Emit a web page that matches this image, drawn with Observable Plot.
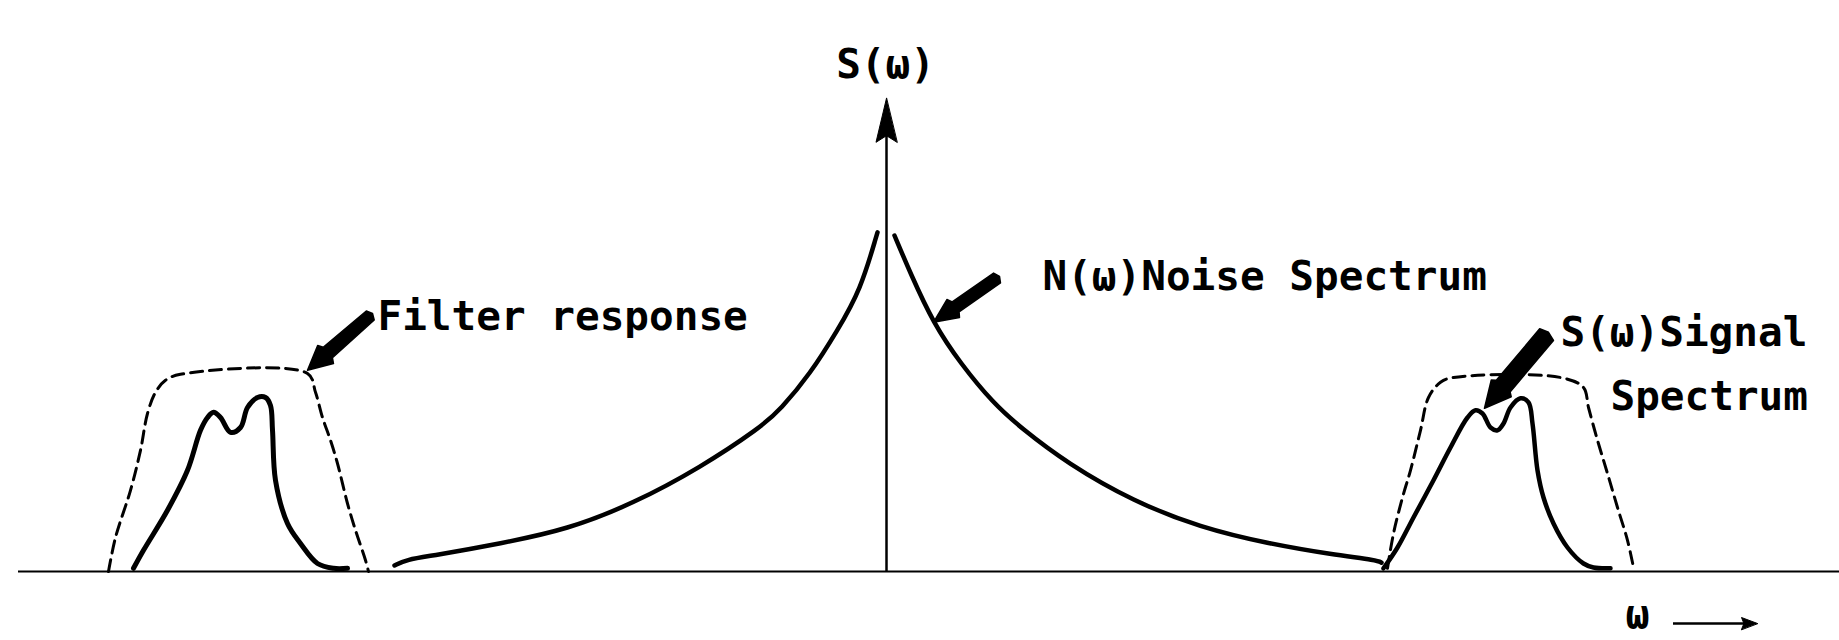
<!DOCTYPE html>
<html><head><meta charset="utf-8">
<script src="https://cdn.jsdelivr.net/npm/d3@7"></script>
<script src="https://cdn.jsdelivr.net/npm/@observablehq/plot@0.6"></script>
<style>html,body{margin:0;padding:0;background:#fff;} #chart svg{display:block;}</style>
</head><body><div id="chart"></div>
<script>
// ---- data (ω in arbitrary units, S(ω) in arbitrary units) ----
const noiseLeftOmega  = [-4.92, -4.8, -4.53, -3.86, -3.19, -2.53, -1.86, -1.26, -1.06, -0.76, -0.49, -0.26, -0.09];
const noiseLeftS      = [0.15, 0.3, 0.4, 0.7, 1.05, 1.7, 2.6, 3.6, 4.05, 4.95, 6.03, 7.03, 8.48];
const noiseRightOmega = [0.08, 0.24, 0.47, 0.74, 1.07, 1.34, 1.81, 2.47, 3.14, 3.81, 4.47, 4.91, 4.95];
const noiseRightS     = [8.4, 7.45, 6.2, 5.2, 4.2, 3.6, 2.7, 1.75, 1.1, 0.7, 0.42, 0.28, 0.22];

const filterLeftOmega = [-7.78, -7.71, -7.56, -7.46, -7.39, -7.31, -7.21, -7.06, -5.79, -5.71, -5.64, -5.56, -5.49, -5.39, -5.31, -5.21, -5.18];
const filterLeftS     = [0, 0.85, 2.03, 3.03, 3.95, 4.48, 4.78, 4.93, 4.95, 4.48, 3.85, 3.28, 2.7, 1.7, 1.03, 0.28, 0];
const filterRightOmega = [5.01, 5.07, 5.16, 5.24, 5.34, 5.42, 5.54, 5.67, 6.74, 6.97, 7.02, 7.11, 7.21, 7.31, 7.41, 7.47];
const filterRightS     = [0.08, 0.95, 1.85, 2.53, 3.53, 4.35, 4.73, 4.85, 4.85, 4.6, 4.1, 3.28, 2.45, 1.6, 0.78, 0.1];

const signalLeftOmega = [-7.53, -7.43, -7.19, -6.99, -6.86, -6.79, -6.73, -6.66, -6.56, -6.46, -6.39, -6.29, -6.21, -6.16, -6.14, -6.11, -5.99, -5.86, -5.69, -5.53, -5.39];
const signalLeftS     = [0.08, 0.53, 1.53, 2.53, 3.53, 3.85, 3.98, 3.85, 3.48, 3.6, 4.1, 4.35, 4.35, 4.15, 3.53, 2.28, 1.2, 0.7, 0.2, 0.08, 0.08];
const signalRightOmega = [4.97, 5.11, 5.27, 5.47, 5.64, 5.81, 5.89, 5.96, 6.04, 6.11, 6.17, 6.24, 6.34, 6.42, 6.46, 6.51, 6.57, 6.67, 6.81, 6.97, 7.07, 7.24];
const signalRightS     = [0.08, 0.6, 1.35, 2.28, 3.1, 3.85, 4.03, 3.95, 3.6, 3.53, 3.7, 4.1, 4.33, 4.23, 3.7, 2.53, 1.85, 1.2, 0.6, 0.2, 0.1, 0.08];

// axes
const omegaAxisRange = [-8.68, 9.53];
const sAxisTop = 11.83;

// labels
const labelText  = ["S(ω)", "Filter response", "N(ω)Noise Spectrum", "S(ω)Signal", "Spectrum", "ω"];
const labelOmega = [-0.01, -5.09, 1.56, 6.74, 7.24, 7.39];
const labelS     = [12.33, 6.03, 7.03, 5.65, 4.03, -1.42];

// pointers (tip -> tail)
const pointerTipOmega  = [-5.79, 0.47, 5.98];
const pointerTipS      = [5.03, 6.23, 4.08];
const pointerTailOmega = [-5.14, 1.13, 6.62];
const pointerTailS     = [6.45, 7.38, 5.98];

// ω arrow
const omegaArrowFrom = [7.87, -1.3];
const omegaArrowTo   = [8.71, -1.3];

// ---- build ----
const W = 1839, H = 640;
const XD = [-8.86, 9.53], YD = [-1.725, 14.275];
const kx = W / (XD[1] - XD[0]), ky = H / (YD[1] - YD[0]);
const toPx = (w, s) => [(w - XD[0]) * kx, (YD[1] - s) * ky];
const toData = (p) => ({x: p[0] / kx + XD[0], y: YD[1] - p[1] / ky});

const zip = (xs, ys) => xs.map((x, i) => ({x, y: ys[i]}));

function pointerPoly(tipD, tailD, hw, hl, sw0, sw1, id) {
  const t = toPx(...tipD), e = toPx(...tailD);
  const dx = e[0] - t[0], dy = e[1] - t[1], L = Math.hypot(dx, dy);
  const ux = dx / L, uy = dy / L, nx = -uy, ny = ux;
  const P = (a, b) => toData([t[0] + ux * a + nx * b, t[1] + uy * a + ny * b]);
  return [P(0, 0), P(hl, hw), P(hl + 3, sw0), P(L - 3, sw1), P(L, 0), P(L - 3, -sw1), P(hl + 3, -sw0), P(hl, -hw)]
    .map(d => ({...d, id}));
}
function headPoly(tipD, fromD, hl, hw, id) {
  const t = toPx(...tipD), e = toPx(...fromD);
  const dx = e[0] - t[0], dy = e[1] - t[1], L = Math.hypot(dx, dy);
  const ux = dx / L, uy = dy / L, nx = -uy, ny = ux;
  const P = (a, b) => toData([t[0] + ux * a + nx * b, t[1] + uy * a + ny * b]);
  return [P(0, 0), P(hl, hw), P(hl * 0.85, 0), P(hl, -hw)].map(d => ({...d, id}));
}

const pointerSizes = [[12, 24, 7, 6], [11, 24, 6, 6], [13, 26, 9, 9]];
const pointers = pointerTipOmega.flatMap((w, i) =>
  pointerPoly([w, pointerTipS[i]], [pointerTailOmega[i], pointerTailS[i]], ...pointerSizes[i], "p" + i));
const heads = [
  ...headPoly([0, sAxisTop], [0, 0], 44, 10.5, "h0"),
  ...headPoly(omegaArrowTo, omegaArrowFrom, 16, 6, "h1")
];

const labels = labelText.map((t, i) => ({t, x: labelOmega[i], y: labelS[i]}));
const FONT = "DejaVu Sans Mono";
const txt = (i, anchor, size, aria) => Plot.text(labels.slice(i, i + 1), {
  x: "x", y: "y", text: "t", textAnchor: anchor, lineAnchor: "bottom",
  fontFamily: FONT, fontWeight: "bold", fontSize: size, fill: "#000", ariaLabel: aria
});

const chart = Plot.plot({
  width: W, height: H, margin: 0,
  x: {domain: XD, axis: null},
  y: {domain: YD, axis: null},
  style: {background: "#fff", color: "#000"},
  marks: [
    Plot.ruleY([0], {x1: omegaAxisRange[0], x2: omegaAxisRange[1], stroke: "#000", strokeWidth: 2}),
    Plot.ruleX([0], {y1: 0, y2: sAxisTop - 0.9, stroke: "#000", strokeWidth: 2.5}),
    Plot.line(zip(filterLeftOmega, filterLeftS), {x: "x", y: "y", stroke: "#000", strokeWidth: 3, strokeDasharray: "12,7", curve: "catmull-rom"}),
    Plot.line(zip(filterRightOmega, filterRightS), {x: "x", y: "y", stroke: "#000", strokeWidth: 3, strokeDasharray: "12,7", curve: "catmull-rom"}),
    Plot.line(zip(noiseLeftOmega, noiseLeftS), {x: "x", y: "y", stroke: "#000", strokeWidth: 4.5, curve: "basis"}),
    Plot.line(zip(noiseRightOmega, noiseRightS), {x: "x", y: "y", stroke: "#000", strokeWidth: 4.5, curve: "basis"}),
    Plot.line(zip(signalLeftOmega, signalLeftS), {x: "x", y: "y", stroke: "#000", strokeWidth: 5, curve: "catmull-rom"}),
    Plot.line(zip(signalRightOmega, signalRightS), {x: "x", y: "y", stroke: "#000", strokeWidth: 4.5, curve: "catmull-rom"}),
    Plot.line(pointers, {x: "x", y: "y", z: "id", fill: "#000", stroke: "#000", strokeWidth: 1.5, curve: "linear-closed"}),
    Plot.line(heads, {x: "x", y: "y", z: "id", fill: "#000", stroke: "#000", strokeWidth: 1, curve: "linear-closed"}),
    Plot.ruleY([omegaArrowFrom[1]], {x1: omegaArrowFrom[0], x2: omegaArrowTo[0] - 0.1, stroke: "#000", strokeWidth: 2.5}),
    txt(0, "middle", 41, "lbl-s"),
    txt(1, "start", 41, "lbl-filter"),
    txt(2, "start", 41, "lbl-noise"),
    txt(3, "start", 41, "lbl-signal"),
    txt(4, "start", 41, "lbl-spectrum"),
    txt(5, "start", 40, "lbl-omega")
  ]
});

const spacing = {"lbl-filter": -1.8, "lbl-noise": 1.1, "lbl-spectrum": 2.7};
for (const [k, v] of Object.entries(spacing)) {
  chart.querySelectorAll(`g[aria-label="${k}"] text`).forEach(t => t.setAttribute("letter-spacing", v));
}
document.getElementById("chart").appendChild(chart);
</script>
</body></html>
